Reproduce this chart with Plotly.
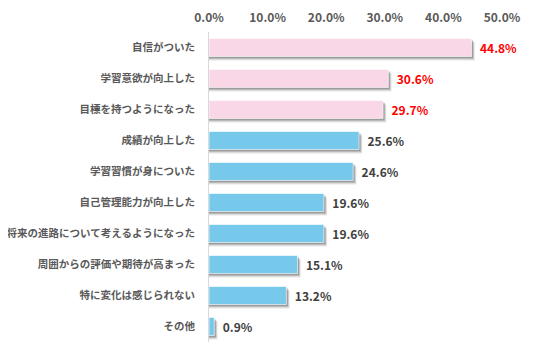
import plotly.graph_objects as go

categories = ["自信がついた", "学習意欲が向上した", "目標を持つようになった", "成績が向上した",
              "学習習慣が身についた", "自己管理能力が向上した", "将来の進路について考えるようになった",
              "周囲からの評価や期待が高まった", "特に変化は感じられない", "その他"]
values = [44.8, 30.6, 29.7, 25.6, 24.6, 19.6, 19.6, 15.1, 13.2, 0.9]
highlight = [True, True, True, False, False, False, False, False, False, False]
tick_values = [0, 10, 20, 30, 40, 50]
tick_labels = ["0.0%", "10.0%", "20.0%", "30.0%", "40.0%", "50.0%"]

pos = list(range(len(categories)))
bar_colors = ["#F9D7E6" if h else "#77C9EB" for h in highlight]
text_colors = ["#FF0000" if h else "#404040" for h in highlight]
labels = [f"  {v:.1f}%" for v in values]

fig = go.Figure()
# soft shadow layers
for dx, dy, op in [(0.55, 0.13, 0.10), (0.4, 0.09, 0.15), (0.25, 0.06, 0.2)]:
    fig.add_trace(go.Bar(
        x=[v + dx for v in values], y=[p + dy for p in pos], orientation="h",
        width=0.58, marker=dict(color=f"rgba(0,0,0,{op})", line=dict(width=0)),
        hoverinfo="skip", showlegend=False))
fig.add_trace(go.Bar(
    x=values, y=pos, orientation="h", width=0.58,
    marker=dict(color=bar_colors, line=dict(color="rgba(255,255,255,0.6)", width=1)),
    text=labels, textposition="outside", cliponaxis=False,
    textfont=dict(color=text_colors, size=12, family="Noto Sans CJK JP", weight="bold"),
    showlegend=False))

# page body has an 8px default margin, so offsets are compensated here
fig.update_layout(
    width=528, height=351, barmode="overlay",
    margin=dict(l=201, r=34, t=24, b=17),
    paper_bgcolor="white", plot_bgcolor="white",
    font=dict(family="Noto Sans CJK JP", color="#595959"),
    xaxis=dict(range=[0, 50], side="top", tickvals=tick_values, ticktext=tick_labels,
               showgrid=False, zeroline=False, automargin=False,
               showline=False, ticks="", ticklabelstandoff=7,
               tickfont=dict(size=12, color="#595959", weight="bold")),
    yaxis=dict(range=[len(categories) - 0.5, -0.5], tickvals=pos, ticktext=categories,
               showgrid=False, zeroline=False, showline=True, linecolor="#D9D9D9",
               linewidth=1, ticks="", ticklabelstandoff=11, automargin=False,
               tickfont=dict(size=10.5, color="#595959", weight="bold")),
)
fig.write_html("out.html")
